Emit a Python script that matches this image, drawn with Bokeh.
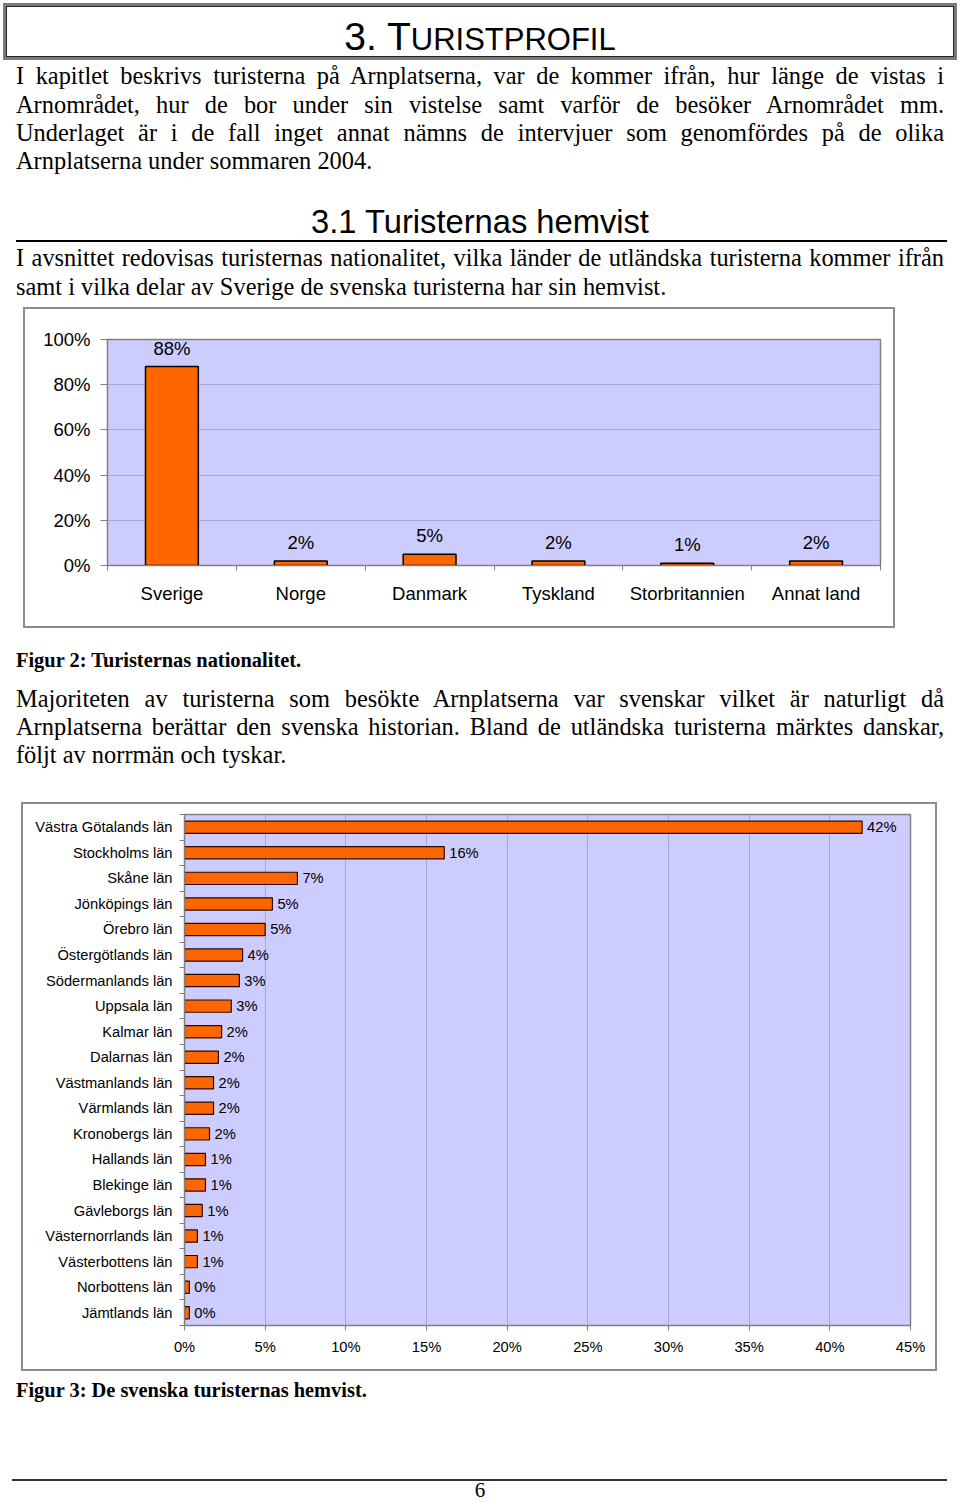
from bokeh.plotting import figure
from bokeh.models import (ColumnDataSource, Range1d, FixedTicker,
                          PrintfTickFormatter, LabelSet, Div, Spacer)
from bokeh.layouts import column, row
from bokeh.core.properties import value
from bokeh.embed import file_html
from bokeh.resources import INLINE

# ---------------- data ----------------
countries = ["Sverige", "Norge", "Danmark", "Tyskland", "Storbritannien", "Annat land"]
country_pct = [88, 2, 5, 2, 1, 2]
country_labels = ["88%", "2%", "5%", "2%", "1%", "2%"]

regions = ["Västra Götalands län", "Stockholms län", "Skåne län", "Jönköpings län",
           "Örebro län", "Östergötlands län", "Södermanlands län", "Uppsala län",
           "Kalmar län", "Dalarnas län", "Västmanlands län", "Värmlands län",
           "Kronobergs län", "Hallands län", "Blekinge län", "Gävleborgs län",
           "Västernorrlands län", "Västerbottens län", "Norbottens län", "Jämtlands län"]
region_pct = [42.0, 16.1, 7.0, 5.45, 5.0, 3.6, 3.4, 2.9, 2.3, 2.1,
              1.8, 1.8, 1.55, 1.3, 1.3, 1.1, 0.8, 0.8, 0.3, 0.3]
region_labels = ["42%", "16%", "7%", "5%", "5%", "4%", "3%", "3%", "2%", "2%",
                 "2%", "2%", "2%", "1%", "1%", "1%", "1%", "1%", "0%", "0%"]
x_ticks2 = [0, 5, 10, 15, 20, 25, 30, 35, 40, 45]
y_ticks1 = [0, 20, 40, 60, 80, 100]

SANS = "Liberation Sans"
SERIF = "Liberation Serif"
ORANGE = "#FF6600"
LAVENDER = "#CCCCFF"
GRID = "#A8A8D8"
GRAY = "#808080"
BOXGRAY = "#8C8C8C"


def boxed(p, w, h, lw=2):
    """Surround a figure with a thin grey frame built from layout blocks."""
    def bar(bw, bh):
        return Div(text="", width=bw, height=bh, margin=0,
                   styles={"background-color": BOXGRAY})
    return column(bar(w + 2 * lw, lw),
                  row(bar(lw, h), p, bar(lw, h), spacing=0, margin=0),
                  bar(w + 2 * lw, lw), spacing=0, margin=0)


# ---------------- chart 1 ----------------
W1, H1 = 868, 317
n1 = len(countries)
x1 = [i + 0.5 for i in range(n1)]
src1 = ColumnDataSource(dict(x=x1, val=country_pct, lab=country_labels))
p1 = figure(width=W1, height=H1, x_range=Range1d(0, n1), y_range=Range1d(0, 100),
            output_backend="svg", toolbar_location=None,
            min_border_left=82, min_border_right=13, min_border_top=30, min_border_bottom=61)
p1.background_fill_color = LAVENDER
p1.border_fill_color = "white"
p1.outline_line_color = GRAY
p1.outline_line_width = 1.5
p1.vbar(x="x", top="val", width=0.41, source=src1, fill_color=ORANGE,
        line_color="black", line_width=1.5)
p1.add_layout(LabelSet(x="x", y="val", text="lab", source=src1, text_align="center",
                       text_baseline="bottom", y_offset=8,
                       text_font=value(SANS), text_font_size=value("18.5px"),
                       text_color="black"))
p1.xgrid.grid_line_color = None
p1.ygrid.grid_line_color = GRID
p1.ygrid.ticker = FixedTicker(ticks=y_ticks1)
p1.yaxis.ticker = FixedTicker(ticks=y_ticks1)
p1.yaxis.formatter = PrintfTickFormatter(format="%d%%")
p1.xaxis.ticker = FixedTicker(ticks=x1, minor_ticks=list(range(n1 + 1)))
p1.xaxis.major_label_overrides = dict(zip(x1, countries))
for ax in (p1.xaxis, p1.yaxis):
    ax.axis_line_color = GRAY
    ax.major_label_text_font = SANS
    ax.major_label_text_font_size = "18.5px"
    ax.major_label_text_color = "black"
p1.yaxis.minor_tick_line_color = None
p1.yaxis.major_tick_line_color = GRAY
p1.yaxis.major_tick_out = 7
p1.yaxis.major_tick_in = 0
p1.yaxis.major_label_standoff = 10
p1.xaxis.major_tick_line_color = None
p1.xaxis.major_tick_out = 0
p1.xaxis.major_tick_in = 0
p1.xaxis.minor_tick_line_color = GRAY
p1.xaxis.minor_tick_out = 5
p1.xaxis.minor_tick_in = 0
p1.xaxis.major_label_standoff = 12

# ---------------- chart 2 ----------------
W2, H2 = 912, 565
n2 = len(regions)
y2 = [n2 - i - 0.5 for i in range(n2)]
src2 = ColumnDataSource(dict(y=y2, val=region_pct, lab=region_labels))
p2 = figure(width=W2, height=H2, y_range=Range1d(0, n2), x_range=Range1d(0, 45),
            output_backend="svg", toolbar_location=None,
            min_border_left=161, min_border_right=25, min_border_top=10, min_border_bottom=44)
p2.background_fill_color = LAVENDER
p2.border_fill_color = "white"
p2.outline_line_color = GRAY
p2.outline_line_width = 1.5
p2.hbar(y="y", right="val", left=0, height=0.48, source=src2, fill_color=ORANGE,
        line_color="#2a0a00", line_width=1.2)
p2.add_layout(LabelSet(x="val", y="y", text="lab", source=src2, text_align="left",
                       text_baseline="middle", x_offset=5,
                       text_font=value(SANS), text_font_size=value("14.7px"),
                       text_color="black"))
p2.ygrid.grid_line_color = None
p2.xgrid.grid_line_color = GRID
p2.xgrid.ticker = FixedTicker(ticks=x_ticks2)
p2.xaxis.ticker = FixedTicker(ticks=x_ticks2)
p2.xaxis.formatter = PrintfTickFormatter(format="%d%%")
p2.yaxis.ticker = FixedTicker(ticks=y2, minor_ticks=list(range(n2 + 1)))
p2.yaxis.major_label_overrides = dict(zip(y2, regions))
for ax in (p2.xaxis, p2.yaxis):
    ax.axis_line_color = GRAY
    ax.major_label_text_font = SANS
    ax.major_label_text_font_size = "14.7px"
    ax.major_label_text_color = "black"
p2.xaxis.minor_tick_line_color = None
p2.xaxis.major_tick_line_color = GRAY
p2.xaxis.major_tick_out = 5
p2.xaxis.major_tick_in = 0
p2.xaxis.major_label_standoff = 8
p2.yaxis.major_tick_line_color = None
p2.yaxis.major_tick_out = 0
p2.yaxis.major_tick_in = 0
p2.yaxis.minor_tick_line_color = GRAY
p2.yaxis.minor_tick_out = 5
p2.yaxis.minor_tick_in = 0
p2.yaxis.major_label_standoff = 7

# ---------------- page text ----------------
BODY = 24.4
CAP = 20.4


def line(text, baseline, justify=True, size=BODY, bold=False, family=SERIF, left=16, width=928,
         align=None, lh=1.2):
    asc, desc = (0.891, 0.216) if family == SERIF else (0.905, 0.212)
    top = baseline - ((lh - asc - desc) / 2 + asc) * size
    if align is None:
        al = "text-align:justify;text-align-last:justify;" if justify else "text-align:left;"
    else:
        al = f"text-align:{align};"
    fw = "font-weight:bold;" if bold else ""
    return (f'<div style="position:absolute;left:{left}px;top:{top:.1f}px;width:{width}px;'
            f"font-family:'{family}';font-size:{size}px;line-height:{lh};{al}{fw}\">{text}</div>")


top_html = ['<div style="position:relative;width:960px;height:307px;color:#000;">']
top_html.append('<div style="position:absolute;left:3px;top:3px;width:954px;height:57px;'
                'box-sizing:border-box;border:3px solid #7a7a7a;'
                'box-shadow:inset 0 0 0 1px #222;"></div>')
top_html.append(f'<div style="position:absolute;left:0px;top:13.5px;width:960px;text-align:center;'
                f"font-family:'{SANS}';font-size:39px;line-height:1.2;\">3. T"
                '<span style="font-size:31px">URISTPROFIL</span></div>')
p1_lines = ["I kapitlet beskrivs turisterna på Arnplatserna, var de kommer ifrån, hur länge de vistas i",
            "Arnområdet, hur de bor under sin vistelse samt varför de besöker Arnområdet mm.",
            "Underlaget är i de fall inget annat nämns de intervjuer som genomfördes på de olika",
            "Arnplatserna under sommaren 2004."]
for i, (t, b) in enumerate(zip(p1_lines, [84, 112.5, 141, 169])):
    top_html.append(line(t, b, justify=(i < 3)))
top_html.append(line("3.1 Turisternas hemvist", 233, size=32.7, family=SANS, left=0, width=960,
                     align="center"))
top_html.append('<div style="position:absolute;left:16px;top:240px;width:931px;height:2px;'
                'background:#000;"></div>')
p2_lines = ["I avsnittet redovisas turisternas nationalitet, vilka länder de utländska turisterna kommer ifrån",
            "samt i vilka delar av Sverige de svenska turisterna har sin hemvist."]
for i, (t, b) in enumerate(zip(p2_lines, [265.5, 294.5])):
    top_html.append(line(t, b, justify=(i < 1)))
top_html.append("</div>")

mid_html = ['<div style="position:relative;width:960px;height:174px;color:#000;">']
mid_html.append(line("Figur 2: Turisternas nationalitet.", 39.5, justify=False, size=CAP, bold=True,
                     width=900))
p3_lines = ["Majoriteten av turisterna som besökte Arnplatserna var svenskar vilket är naturligt då",
            "Arnplatserna berättar den svenska historian. Bland de utländska turisterna märktes danskar,",
            "följt av norrmän och tyskar."]
for i, (t, b) in enumerate(zip(p3_lines, [78.5, 106.5, 134.5])):
    mid_html.append(line(t, b, justify=(i < 2)))
mid_html.append("</div>")

bot_html = ['<div style="position:relative;width:960px;height:132px;color:#000;">']
bot_html.append(line("Figur 3: De svenska turisternas hemvist.", 26.5, justify=False, size=CAP,
                     bold=True, width=900))
bot_html.append('<div style="position:absolute;left:12px;top:108px;width:935px;height:2px;'
                'background:#333;"></div>')
bot_html.append(line("6", 126, size=21, left=0, width=960, align="center", lh=0.7))
bot_html.append("</div>")

div_top = Div(text="".join(top_html), width=960, height=307, margin=0)
div_mid = Div(text="".join(mid_html), width=960, height=174, margin=0)
div_bot = Div(text="".join(bot_html), width=960, height=132, margin=0)

layout = column(
    div_top,
    row(Spacer(width=23, height=H1 + 4, margin=0), boxed(p1, W1, H1), margin=0, spacing=0),
    div_mid,
    row(Spacer(width=21, height=H2 + 4, margin=0), boxed(p2, W2, H2), margin=0, spacing=0),
    div_bot,
    spacing=0, margin=0,
)

open("out.html", "w").write(file_html(layout, INLINE))
